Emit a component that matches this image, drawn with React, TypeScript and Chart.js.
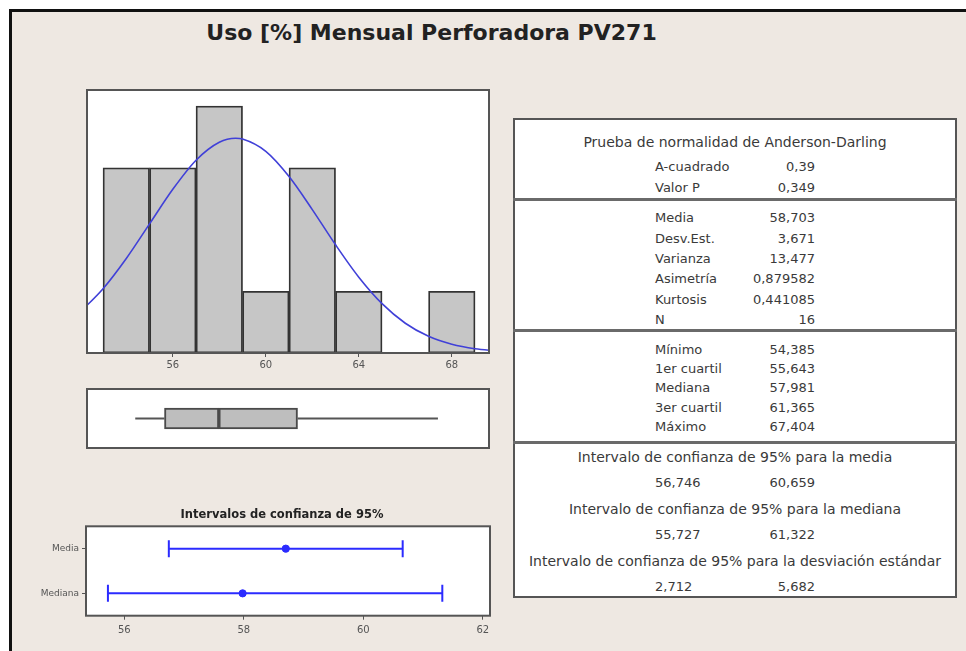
import React, { useEffect, useRef } from 'react';
import { Chart, registerables } from 'chart.js';

Chart.register(...registerables);

// ---------- data ----------
const TITLE = 'Uso [%] Mensual Perforadora PV271';

const BIN_MIDPOINTS = [54, 56, 58, 60, 62, 64, 66, 68];
const BIN_COUNTS = [3, 3, 4, 1, 3, 1, 0, 1];
const HIST_TICKS = [56, 60, 64, 68];

// fitted normal curve (count scale) read along x
const CURVE_X = [52, 53, 54, 55, 56, 57, 58, 58.7, 59, 60, 61, 62, 63, 64, 65, 66, 67, 68, 69, 70];
const CURVE_Y = [0.657, 1.041, 1.531, 2.091, 2.652, 3.123, 3.414, 3.478, 3.466, 3.267, 2.859, 2.323, 1.753, 1.228, 0.799, 0.482, 0.27, 0.141, 0.068, 0.031];

const AD_LABELS = ['A-cuadrado', 'Valor P'];
const AD_VALUES = [0.39, 0.349];
const AD_DECIMALS = [2, 3];

const DESC_LABELS = ['Media', 'Desv.Est.', 'Varianza', 'Asimetría', 'Kurtosis', 'N'];
const DESC_VALUES = [58.703, 3.671, 13.477, 0.879582, 0.441085, 16];
const DESC_DECIMALS = [3, 3, 3, 6, 6, 0];

const QUART_LABELS = ['Mínimo', '1er cuartil', 'Mediana', '3er cuartil', 'Máximo'];
const QUART_VALUES = [54.385, 55.643, 57.981, 61.365, 67.404];

const CI_HEADERS = [
  'Intervalo de confianza de 95% para la media',
  'Intervalo de confianza de 95% para la mediana',
  'Intervalo de confianza de 95% para la desviación estándar',
];
const CI_TABLE_LOW = [56.746, 55.727, 2.712];
const CI_TABLE_HIGH = [60.659, 61.322, 5.682];

const CI_LABELS = ['Media', 'Mediana'];
const CI_LOW = [56.746, 55.727];
const CI_CENTER = [58.703, 57.981];
const CI_HIGH = [60.659, 61.322];
const CI_TICKS = [56, 58, 60, 62];
const CI_TITLE = 'Intervalos de confianza de 95%';

const [MIN, Q1, MEDIAN, Q3, MAX] = QUART_VALUES;

// ---------- helpers ----------
const FONT = "'DejaVu Sans', Verdana, sans-serif";
const fmt = (v: number, d: number) => v.toFixed(d).replace('.', ',');

const framePlugin = {
  id: 'frame',
  beforeDraw(chart: any) {
    const { ctx, chartArea: a } = chart;
    ctx.save();
    ctx.fillStyle = '#ffffff';
    ctx.fillRect(a.left, a.top, a.right - a.left, a.bottom - a.top);
    ctx.restore();
  },
  afterDraw(chart: any) {
    const { ctx, chartArea: a } = chart;
    ctx.save();
    ctx.strokeStyle = '#555555';
    ctx.lineWidth = 2;
    ctx.strokeRect(a.left, a.top, a.right - a.left, a.bottom - a.top);
    ctx.restore();
  },
};

function ChartBox({ config, left, top, width, height }: any) {
  const ref = useRef<HTMLCanvasElement | null>(null);
  useEffect(() => {
    if (!ref.current) return;
    const chart = new Chart(ref.current, config);
    return () => chart.destroy();
  }, []);
  return (
    <canvas
      ref={ref}
      width={width}
      height={height}
      style={{ position: 'absolute', left, top, width, height }}
    />
  );
}

const HIST_X_MIN = 52.31;
const HIST_X_MAX = 69.6;

const histConfig: any = {
  type: 'bar',
  data: {
    datasets: [
      {
        type: 'line',
        data: CURVE_X.map((x, i) => ({ x, y: CURVE_Y[i] })),
        borderColor: '#4040d8',
        borderWidth: 1.6,
        pointRadius: 0,
        cubicInterpolationMode: 'monotone',
        fill: false,
        order: 0,
      },
      {
        type: 'bar',
        data: BIN_MIDPOINTS.map((x, i) => ({ x, y: BIN_COUNTS[i] })),
        backgroundColor: '#c6c6c6',
        borderColor: '#333333',
        borderWidth: 1.8,
        borderSkipped: false,
        barPercentage: 1,
        categoryPercentage: 1,
        order: 1,
      },
    ],
  },
  options: {
    responsive: false,
    animation: false,
    events: [],
    layout: { padding: { left: 7, right: 7, top: 6, bottom: 11 } },
    plugins: { legend: { display: false }, tooltip: { enabled: false } },
    scales: {
      x: {
        type: 'linear',
        min: HIST_X_MIN,
        max: HIST_X_MAX,
        offset: false,
        afterFit: (s: any) => { s.height = 20; },
        afterBuildTicks: (s: any) => { s.ticks = HIST_TICKS.map((v) => ({ value: v })); },
        grid: { display: true, drawOnChartArea: false, drawTicks: true, tickLength: 4, color: '#555', offset: false },
        border: { display: false },
        ticks: { font: { family: FONT, size: 10 }, color: '#555', padding: 2.5, maxRotation: 0 },
      },
      y: { type: 'linear', min: 0, max: 4.26, display: false },
    },
  },
  plugins: [framePlugin],
};

const boxConfig: any = {
  type: 'bar',
  data: {
    datasets: [
      {
        type: 'line',
        data: [{ x: MIN, y: 0.5 }, { x: Q1, y: 0.5 }],
        borderColor: '#555',
        borderWidth: 2,
        pointRadius: 0,
      },
      {
        type: 'line',
        data: [{ x: Q3, y: 0.5 }, { x: MAX, y: 0.5 }],
        borderColor: '#555',
        borderWidth: 2,
        pointRadius: 0,
      },
      {
        type: 'bar',
        indexAxis: 'y',
        data: [{ y: 0.5, x: [Q1, MEDIAN] }, { y: 0.5, x: [MEDIAN, Q3] }],
        backgroundColor: '#bebebe',
        borderColor: '#4a4a4a',
        borderWidth: 2,
        borderSkipped: false,
        barThickness: 21,
      },
    ],
  },
  options: {
    responsive: false,
    animation: false,
    events: [],
    layout: { padding: { left: 7, right: 7, top: 5, bottom: 6 } },
    plugins: { legend: { display: false }, tooltip: { enabled: false } },
    scales: {
      x: { type: 'linear', min: HIST_X_MIN, max: HIST_X_MAX, display: false, offset: false },
      y: { type: 'linear', min: 0, max: 1, display: false, offset: false },
    },
  },
  plugins: [framePlugin],
};

const CI_BLUE = '#2b2bff';

const ciConfig: any = {
  type: 'line',
  data: {
    labels: CI_LABELS,
    datasets: CI_LABELS.map((lab, i) => ({
      data: [
        { x: CI_LOW[i], y: lab },
        { x: CI_CENTER[i], y: lab },
        { x: CI_HIGH[i], y: lab },
      ],
      borderColor: CI_BLUE,
      borderWidth: 2,
      pointStyle: ['line', 'circle', 'line'],
      pointRotation: [90, 0, 90],
      pointRadius: [8.5, 3.6, 8.5],
      pointBorderWidth: [2, 1, 2],
      pointBackgroundColor: CI_BLUE,
      pointBorderColor: CI_BLUE,
    })),
  },
  options: {
    responsive: false,
    animation: false,
    events: [],
    layout: { padding: { left: 0, right: 0, top: 0, bottom: 4.3 } },
    plugins: {
      legend: { display: false },
      tooltip: { enabled: false },
      title: {
        display: true,
        text: CI_TITLE,
        font: { family: FONT, size: 11.5, weight: 'bold' },
        color: '#222',
        padding: { top: 8.5, bottom: 4 },
      },
    },
    scales: {
      x: {
        type: 'linear',
        min: 55.36,
        max: 62.12,
        afterFit: (s: any) => { s.height = 25; },
        afterBuildTicks: (s: any) => { s.ticks = CI_TICKS.map((v) => ({ value: v })); },
        grid: { display: true, drawOnChartArea: false, drawTicks: true, tickLength: 4, color: '#555' },
        border: { display: false },
        ticks: { font: { family: FONT, size: 10 }, color: '#555', padding: 5, maxRotation: 0 },
      },
      y: {
        type: 'category',
        labels: CI_LABELS,
        offset: true,
        afterFit: (s: any) => { s.width = 66; },
        grid: { display: true, drawOnChartArea: false, drawTicks: true, tickLength: 4, color: '#555', offset: false },
        border: { display: false },
        ticks: { font: { family: FONT, size: 9 }, color: '#555', padding: 3 },
      },
      yRight: {
        type: 'linear',
        position: 'right',
        display: true,
        afterFit: (s: any) => { s.width = 54; },
        grid: { display: false },
        border: { display: false },
        ticks: { display: false },
      },
    },
  },
  plugins: [framePlugin],
};

// ---------- table ----------
const TEXT_COLOR = '#3a3a3a';
const T_LEFT = 513;
const T_WIDTH = 444;
const COL_LABEL = 655;
const COL_VALUE_RIGHT = 815;

function Txt({ y, x, align, children }: any) {
  const style: any = {
    position: 'absolute',
    top: y - 8,
    height: 16,
    lineHeight: '16px',
    fontFamily: FONT,
    fontSize: 13,
    color: TEXT_COLOR,
    whiteSpace: 'nowrap',
  };
  if (align === 'center') {
    style.left = T_LEFT;
    style.width = T_WIDTH;
    style.textAlign = 'center';
    style.fontSize = 14;
  } else if (align === 'right') {
    style.left = x - 200;
    style.width = 200;
    style.textAlign = 'right';
  } else {
    style.left = x;
  }
  return <div style={style}>{children}</div>;
}

function Divider({ y }: any) {
  return (
    <div
      style={{ position: 'absolute', left: T_LEFT, width: T_WIDTH, top: y - 1.5, height: 3, background: '#6a6a6a' }}
    />
  );
}

function StatsTable() {
  const items: any[] = [];
  items.push(<Txt key="adh" y={141.7} align="center">Prueba de normalidad de Anderson-Darling</Txt>);
  AD_LABELS.forEach((l, i) => {
    const y = 166.7 + i * 21;
    items.push(<Txt key={'adl' + i} y={y} x={COL_LABEL}>{l}</Txt>);
    items.push(<Txt key={'adv' + i} y={y} x={COL_VALUE_RIGHT} align="right">{fmt(AD_VALUES[i], AD_DECIMALS[i])}</Txt>);
  });
  DESC_LABELS.forEach((l, i) => {
    const y = 218.3 + i * 20.35;
    items.push(<Txt key={'dl' + i} y={y} x={COL_LABEL}>{l}</Txt>);
    items.push(<Txt key={'dv' + i} y={y} x={COL_VALUE_RIGHT} align="right">{fmt(DESC_VALUES[i], DESC_DECIMALS[i])}</Txt>);
  });
  QUART_LABELS.forEach((l, i) => {
    const y = 350 + i * 19.2;
    items.push(<Txt key={'ql' + i} y={y} x={COL_LABEL}>{l}</Txt>);
    items.push(<Txt key={'qv' + i} y={y} x={COL_VALUE_RIGHT} align="right">{fmt(QUART_VALUES[i], 3)}</Txt>);
  });
  CI_HEADERS.forEach((h, i) => {
    const y = 456.7 + i * 52;
    items.push(<Txt key={'ch' + i} y={y} align="center">{h}</Txt>);
    items.push(<Txt key={'cl' + i} y={y + 26.5} x={COL_LABEL}>{fmt(CI_TABLE_LOW[i], 3)}</Txt>);
    items.push(<Txt key={'cv' + i} y={y + 26.5} x={COL_VALUE_RIGHT} align="right">{fmt(CI_TABLE_HIGH[i], 3)}</Txt>);
  });
  return (
    <>
      <div
        style={{
          position: 'absolute', left: T_LEFT, top: 118, width: T_WIDTH, height: 480,
          border: '2px solid #555', boxSizing: 'border-box', background: '#ffffff',
        }}
      />
      <Divider y={199} />
      <Divider y={330.7} />
      <Divider y={442} />
      {items}
    </>
  );
}

export default function App() {
  return (
    <div style={{ position: 'absolute', left: 0, top: 0, width: 966, height: 651, background: '#ffffff', overflow: 'hidden' }}>
      <div
        style={{
          position: 'absolute', left: 9, top: 9, width: 957, height: 642,
          borderTop: '3px solid #111', borderLeft: '3px solid #111',
          boxSizing: 'border-box', background: '#eee8e2',
        }}
      />
      <div
        style={{
          position: 'absolute', left: 0, width: 863, top: 20, height: 26, lineHeight: '26px',
          textAlign: 'center', fontFamily: FONT, fontWeight: 'bold', fontSize: 22, color: '#222', whiteSpace: 'nowrap',
        }}
      >
        {TITLE}
      </div>
      <ChartBox config={histConfig} left={80} top={84} width={416} height={300} />
      <ChartBox config={boxConfig} left={80} top={384} width={416} height={70} />
      <ChartBox config={ciConfig} left={20} top={500} width={524} height={145} />
      <StatsTable />
    </div>
  );
}
